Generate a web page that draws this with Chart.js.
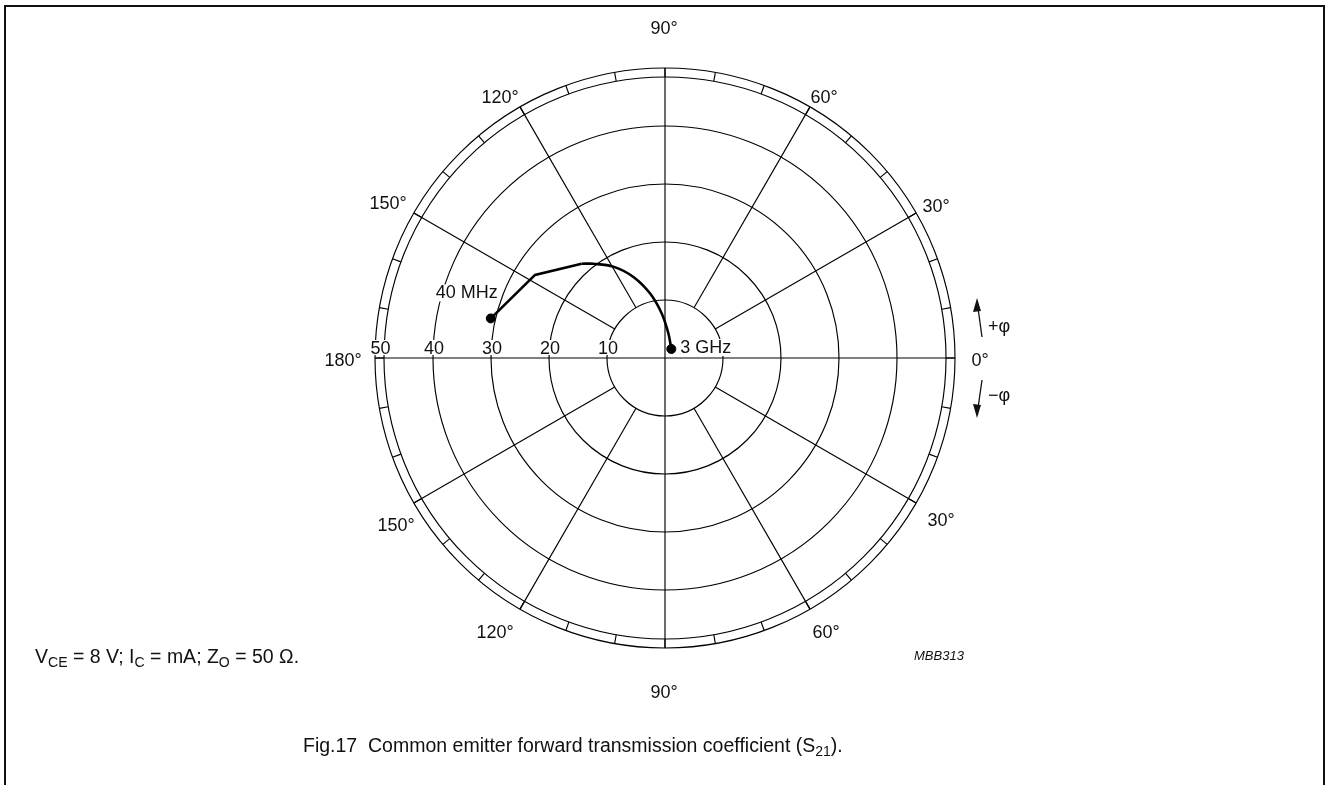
<!DOCTYPE html>
<html>
<head>
<meta charset="utf-8">
<script src="https://cdn.jsdelivr.net/npm/chart.js@4.4.0/dist/chart.umd.min.js"></script>
<style>
body { margin: 0; background: #fff; }
#wrap { position: relative; width: 1326px; height: 785px; overflow: hidden; }
#frame { position: absolute; left: 4px; top: 5px; width: 1317px; height: 900px; border: 2px solid #111; }
canvas { position: absolute; left: 0; top: 0; }
</style>
</head>
<body>
<div id="wrap"><div id="frame"></div><canvas id="chart" width="1326" height="785"></canvas></div>
<script>
// S21: magnitude and phase (deg), 40 MHz -> 3 GHz
const magnitude = [30.8, 26.6, 21.7, 20.4, 18.1, 15.0, 11.4, 7.7, 4.3, 1.9];
const phaseDeg = [167.2, 147.4, 131.5, 127.2, 119.5, 111.3, 103.0, 94.2, 82.3, 55.0];
const straightCount = 3; // first points are joined by straight segments
const startLabel = '40 MHz';
const endLabel = '3 GHz';

const ringValues = [10, 20, 30, 40, 50];
const ringLabels = ['10', '20', '30', '40', '50'];
const spokeAngles = [0, 30, 60, 90, 120, 150, 180, 210, 240, 270, 300, 330];
const angleLabels = ['0°', '30°', '60°', '90°', '120°', '150°', '180°', '150°', '120°', '90°', '60°', '30°'];
const rMax = 50;
const tickRing = 48.45;

// where the angle labels sit, px from the centre (dx right, dy up)
const labelDx = [315, 271, 159, -1, -165, -277, -322, -269, -170, -1, 161, 276];
const labelDy = [-2, 152, 261, 330, 261, 155, -2, -167, -274, -334, -274, -162];

const FONT = '"Liberation Sans", Arial, sans-serif';

function toXY(i) {
    const a = phaseDeg[i] * Math.PI / 180;
    return { x: magnitude[i] * Math.cos(a), y: magnitude[i] * Math.sin(a) };
}
const pts = magnitude.map((_, i) => toXY(i));

function drawRich(ctx, parts, x, y, size) {
    // parts: [text, isSub]
    parts.forEach(p => {
        const s = p[1] ? size * 0.72 : size;
        ctx.font = s + 'px ' + FONT;
        ctx.fillText(p[0], x, p[1] ? y + size * 0.22 : y);
        x += ctx.measureText(p[0]).width;
    });
}

const polarGrid = {
    id: 'polarGrid',
    beforeDatasetsDraw(chart) {
        const ctx = chart.ctx;
        const xs = chart.scales.x, ys = chart.scales.y;
        const cx = xs.getPixelForValue(0), cy = ys.getPixelForValue(0);
        const k = (xs.getPixelForValue(rMax) - cx) / rMax;
        ctx.save();
        ctx.strokeStyle = '#000';
        ctx.lineWidth = 1.15;
        ringValues.forEach(v => {
            ctx.beginPath();
            ctx.arc(cx, cy, v * k, 0, Math.PI * 2);
            ctx.stroke();
        });
        ctx.beginPath();
        ctx.arc(cx, cy, tickRing * k, 0, Math.PI * 2);
        ctx.stroke();
        // 10 degree ticks in the outer ring
        for (let a = 0; a < 360; a += 10) {
            const r = a * Math.PI / 180;
            ctx.beginPath();
            ctx.moveTo(cx + tickRing * k * Math.cos(r), cy - tickRing * k * Math.sin(r));
            ctx.lineTo(cx + rMax * k * Math.cos(r), cy - rMax * k * Math.sin(r));
            ctx.stroke();
        }
        spokeAngles.forEach(a => {
            const r = a * Math.PI / 180;
            const r0 = (a % 90 === 0) ? 0 : ringValues[0];
            ctx.beginPath();
            ctx.moveTo(cx + r0 * k * Math.cos(r), cy - r0 * k * Math.sin(r));
            ctx.lineTo(cx + rMax * k * Math.cos(r), cy - rMax * k * Math.sin(r));
            ctx.stroke();
        });
        ctx.restore();
    },
    afterDraw(chart) {
        const ctx = chart.ctx;
        const xs = chart.scales.x, ys = chart.scales.y;
        const cx = xs.getPixelForValue(0), cy = ys.getPixelForValue(0);
        const k = (xs.getPixelForValue(rMax) - cx) / rMax;
        ctx.save();
        ctx.fillStyle = '#111';
        ctx.font = '18px ' + FONT;
        ctx.textBaseline = 'alphabetic';
        ctx.textAlign = 'center';
        // magnitude labels on the 180 axis, white boxes behind
        ringValues.forEach((v, i) => {
            const rr = v === rMax ? (rMax + tickRing) / 2 : v;
            const x = cx - rr * k + 1;
            const w = ctx.measureText(ringLabels[i]).width;
            ctx.fillStyle = '#fff';
            ctx.fillRect(x - w / 2 - 1, cy - 18, w + 2, 15);
            ctx.fillStyle = '#111';
            ctx.fillText(ringLabels[i], x, cy - 4);
        });
        // angle labels
        ctx.textBaseline = 'middle';
        angleLabels.forEach((t, i) => {
            ctx.fillText(t, cx + labelDx[i], cy - labelDy[i] + 1);
        });
        // frequency labels
        ctx.textAlign = 'left';
        ctx.textBaseline = 'alphabetic';
        const p0 = pts[0], pn = pts[pts.length - 1];
        let x = xs.getPixelForValue(p0.x) - 55, y = ys.getPixelForValue(p0.y) - 20;
        let w = ctx.measureText(startLabel).width;
        ctx.fillStyle = '#fff';
        ctx.fillRect(x - 1, y - 14, w + 2, 17);
        ctx.fillStyle = '#111';
        ctx.fillText(startLabel, x, y);
        x = xs.getPixelForValue(pn.x) + 9; y = ys.getPixelForValue(pn.y) + 4;
        w = ctx.measureText(endLabel).width;
        ctx.fillStyle = '#fff';
        ctx.fillRect(x - 1, y - 14, w + 2, 17);
        ctx.fillStyle = '#111';
        ctx.fillText(endLabel, x, y);
        // phase direction arrows
        ctx.strokeStyle = '#111';
        ctx.lineWidth = 1.3;
        const ax = cx + 312;
        ctx.beginPath(); ctx.moveTo(ax + 5, cy - 21); ctx.lineTo(ax + 1, cy - 50); ctx.stroke();
        ctx.beginPath(); ctx.moveTo(ax, cy - 60); ctx.lineTo(ax - 4, cy - 46); ctx.lineTo(ax + 4, cy - 47); ctx.closePath(); ctx.fill();
        ctx.beginPath(); ctx.moveTo(ax + 5, cy + 22); ctx.lineTo(ax + 1, cy + 50); ctx.stroke();
        ctx.beginPath(); ctx.moveTo(ax, cy + 60); ctx.lineTo(ax - 4, cy + 46); ctx.lineTo(ax + 4, cy + 47); ctx.closePath(); ctx.fill();
        ctx.font = '18px ' + FONT;
        ctx.fillText('+φ', ax + 11, cy - 26);
        ctx.fillText('−φ', ax + 11, cy + 43);
        // notes and caption
        drawRich(ctx, [['V', 0], ['CE', 1], [' = 8 V; I', 0], ['C', 1], [' = mA; Z', 0], ['O', 1], [' = 50 Ω.', 0]], 35, 663, 19.5);
        ctx.font = 'italic 13px ' + FONT;
        ctx.fillText('MBB313', 914, 660);
        drawRich(ctx, [['Fig.17  Common emitter forward transmission coefficient (S', 0], ['21', 1], [').', 0]], 303, 752, 19.5);
        ctx.restore();
    }
};

new Chart(document.getElementById('chart'), {
    type: 'scatter',
    data: {
        datasets: [
            {
                data: pts.slice(0, straightCount),
                showLine: true,
                borderColor: '#000',
                borderWidth: 2.6,
                pointRadius: 0,
                tension: 0
            },
            {
                data: pts.slice(straightCount - 1),
                showLine: true,
                borderColor: '#000',
                borderWidth: 2.6,
                pointRadius: 0,
                tension: 0.35
            },
            {
                data: [pts[0], pts[pts.length - 1]],
                showLine: false,
                pointRadius: 4.5,
                backgroundColor: '#000',
                borderColor: '#000'
            }
        ]
    },
    options: {
        responsive: false,
        animation: false,
        layout: { padding: { left: 375, right: 371, top: 68, bottom: 137 } },
        scales: {
            x: { type: 'linear', min: -rMax, max: rMax, display: false },
            y: { type: 'linear', min: -rMax, max: rMax, display: false }
        },
        plugins: { legend: { display: false }, tooltip: { enabled: false } }
    },
    plugins: [polarGrid]
});
</script>
</body>
</html>
